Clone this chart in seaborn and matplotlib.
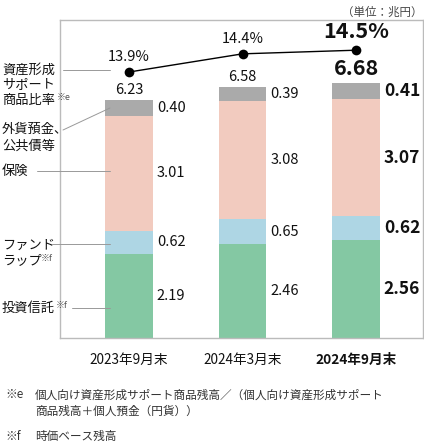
import matplotlib
matplotlib.use("Agg")
import matplotlib.pyplot as plt
import numpy as np
import seaborn as sns
from matplotlib.lines import Line2D

periods = ["2023年9月末", "2024年3月末", "2024年9月末"]
toushin = [2.19, 2.46, 2.56]      # 投資信託
fundwrap = [0.62, 0.65, 0.62]     # ファンドラップ
hoken = [3.01, 3.08, 3.07]        # 保険
gaika = [0.40, 0.39, 0.41]        # 外貨預金、公共債等
totals = [6.23, 6.58, 6.68]
ratio = [13.9, 14.4, 14.5]        # 資産形成サポート商品比率 (%)

colors = ["#84c8a3", "#aed6e4", "#f2cbbf", "#aaaaaa"]
W, H = 424, 442
FONT = ["Noto Sans CJK JP", "DejaVu Sans"]

sns.set_theme(style="white")
plt.rcParams["font.family"] = FONT

fig = plt.figure(figsize=(W / 100, H / 100), dpi=100)
ax = fig.add_axes([60 / W, 1 - 338 / H, 363 / W, 318 / H])

xpos = np.arange(len(periods))
layers = np.vstack([toushin, fundwrap, hoken, gaika])
cum = np.cumsum(layers, axis=0)
bar_w = 0.42

# draw cumulative stacks from the top layer down
for i in range(len(layers) - 1, -1, -1):
    sns.barplot(x=xpos, y=cum[i], color=colors[i], width=bar_w, saturation=1,
                linewidth=0, ax=ax)

ax.set_xlim(-0.608, 2.59)
ax.set_ylim(0, 8.32)
ax.set_xticks([])
ax.set_yticks([])
ax.set_xlabel("")
ax.set_ylabel("")
for s in ax.spines.values():
    s.set_color("#bbbbbb")
    s.set_linewidth(1)

# segment value labels
for j in range(len(periods)):
    last = j == len(periods) - 1
    for i in range(len(layers)):
        mid = cum[i][j] - layers[i][j] / 2
        ax.text(xpos[j] + bar_w / 2 + 0.035, mid, f"{layers[i][j]:.2f}",
                ha="left", va="center",
                fontsize=12.5 if last else 10.5,
                fontweight="bold" if last else "normal", color="#111111")
    ax.annotate(f"{totals[j]:.2f}", (xpos[j], cum[-1][j]),
                xytext=(0, 4 if last else 3), textcoords="offset pixels",
                ha="center", va="bottom",
                fontsize=15.5 if last else 10.5,
                fontweight="bold" if last else "normal", color="#111111")

# ratio line on secondary axis
ax2 = ax.twinx()
sns.lineplot(x=xpos, y=ratio, color="black", marker="o", markersize=7,
             linewidth=1, markeredgewidth=0, ax=ax2)
ax2.set_ylim(6.59, 15.33)
ax2.set_yticks([])
for s in ax2.spines.values():
    s.set_visible(False)
for j in range(len(periods)):
    last = j == len(periods) - 1
    ax2.annotate(f"{ratio[j]:.1f}%", (xpos[j], ratio[j]),
                 xytext=(0, 8), textcoords="offset pixels",
                 ha="center", va="bottom",
                 fontsize=15.5 if last else 10.5,
                 fontweight="bold" if last else "normal", color="#111111")

# x labels
for j, p in enumerate(periods):
    last = j == len(periods) - 1
    ax.text(xpos[j], -22 / 318 * 8.32, p, ha="center", va="center",
            fontsize=9.8, fontweight="bold" if last else "normal",
            color="#111111")


def ftext(x, y, s, **kw):
    kw.setdefault("fontsize", 9.5)
    kw.setdefault("color", "#111111")
    fig.text(x / W, 1 - y / H, s, **kw)


def leader(x1, y1, x2, y2):
    fig.add_artist(Line2D([x1 / W, x2 / W], [1 - y1 / H, 1 - y2 / H],
                          transform=fig.transFigure, color="#999999",
                          linewidth=0.7, zorder=10))


# series labels on the left
ftext(2, 70, "資産形成", va="center")
ftext(2, 85, "サポート", va="center")
ftext(2, 100, "商品比率", va="center")
ftext(57, 97, "※e", va="center", fontsize=6.5, color="#555555")
leader(63, 70, 110, 70)

ftext(2, 129, "外貨預金、", va="center")
ftext(2, 146, "公共債等", va="center")
leader(63, 130, 110, 108)

ftext(2, 171, "保険", va="center")
leader(37, 171, 110, 171)

ftext(2, 245, "ファンド", va="center")
ftext(2, 261, "ラップ", va="center")
ftext(41, 258, "※f", va="center", fontsize=6.5, color="#555555")
leader(52, 244, 110, 244)

ftext(2, 308, "投資信託", va="center")
ftext(56, 305, "※f", va="center", fontsize=6.5, color="#555555")
leader(72, 308, 110, 308)

ftext(422, 12, "（単位：兆円）", ha="right", va="center", fontsize=8.3,
      color="#444444")

# footnotes
ftext(5, 395, "※e", va="center", fontsize=8.4, color="#333333")
ftext(35, 395, "個人向け資産形成サポート商品残高／（個人向け資産形成サポート",
      va="center", fontsize=8.4, color="#333333")
ftext(35, 411, "商品残高＋個人預金（円貨））", va="center", fontsize=8.4,
      color="#333333")
ftext(5, 436, "※f", va="center", fontsize=8.4, color="#333333")
ftext(35, 436, "時価ベース残高", va="center", fontsize=8.4, color="#333333")

fig.savefig("out.png", dpi=100)
